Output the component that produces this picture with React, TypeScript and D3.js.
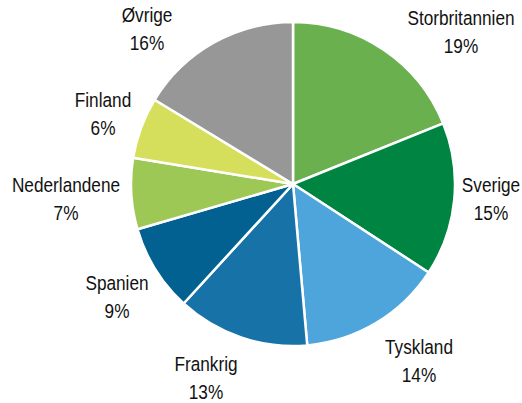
import React, { useRef, useEffect } from 'react';
import * as d3 from 'd3';

const countries = ['Storbritannien', 'Sverige', 'Tyskland', 'Frankrig', 'Spanien', 'Nederlandene', 'Finland', 'Øvrige'];
const shares = [18.9, 15.3, 14.4, 13.2, 8.7, 7.1, 6.1, 16.3];
const colors = ['#6ab04f', '#008442', '#4da5dc', '#1672a7', '#036192', '#9dc856', '#d6df5b', '#979797'];

// where each two-line label sits (centre x, first baseline y)
const labelAnchors: [number, number][] = [
  [461, 25], [491, 192], [419, 354], [206, 371], [117, 290], [66, 192], [103, 107], [147, 22],
];

const App = () => {
  const svgRef = useRef<SVGSVGElement>(null);

  useEffect(() => {
    const width = 522;
    const height = 403;
    const cx = 293;
    const cy = 184;
    const radius = 162;

    const svg = d3.select(svgRef.current)
      .attr('width', width)
      .attr('height', height);
    svg.selectAll('*').remove();

    const pie = d3.pie<number>().sort(null).value(d => d);
    const arc = d3.arc<d3.PieArcDatum<number>>().innerRadius(0).outerRadius(radius);

    const g = svg.append('g').attr('transform', `translate(${cx},${cy})`);

    g.selectAll('path')
      .data(pie(shares))
      .enter()
      .append('path')
      .attr('d', arc)
      .attr('fill', (d, i) => colors[i])
      .attr('stroke', '#fff')
      .attr('stroke-width', 2.5)
      .attr('stroke-linejoin', 'round');

    // condensed look: squeeze a regular sans horizontally
    const labels = svg.selectAll('.label')
      .data(countries)
      .enter()
      .append('text')
      .attr('class', 'label')
      .attr('text-anchor', 'middle')
      .attr('transform', (d, i) => `translate(${labelAnchors[i][0]},${labelAnchors[i][1]}) scale(0.84,1)`)
      .attr('font-family', '"Liberation Sans", Arial, sans-serif')
      .attr('font-size', '20.5px')
      .attr('fill', '#111');

    labels.append('tspan')
      .attr('x', 0)
      .attr('y', 0)
      .text(d => d);

    labels.append('tspan')
      .attr('x', 0)
      .attr('y', 28.5)
      .text((d, i) => `${Math.round(shares[i])}%`);
  }, []);

  return <svg ref={svgRef} style={{ position: 'absolute', left: 0, top: 0, display: 'block' }}></svg>;
};

export default App;
